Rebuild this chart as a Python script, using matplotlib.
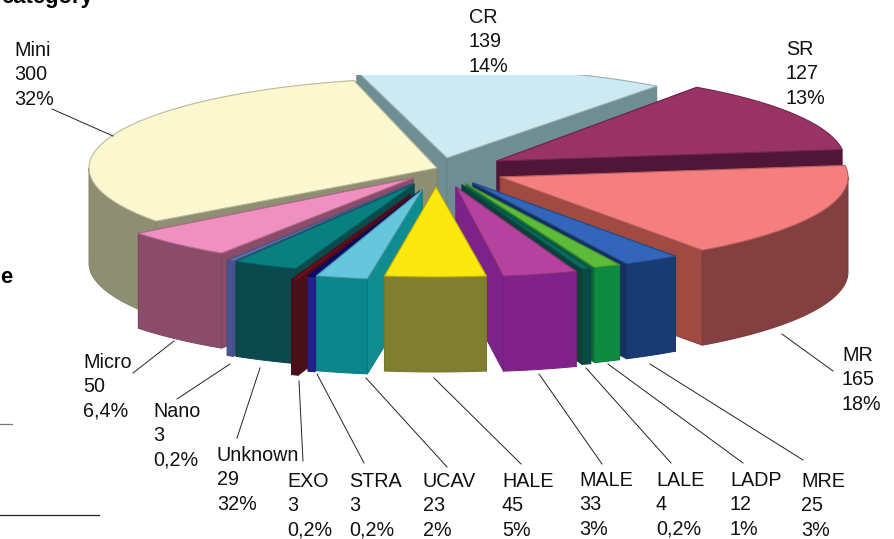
import numpy as np
import matplotlib
matplotlib.use("Agg")
import matplotlib.pyplot as plt
from matplotlib.patches import Polygon, Rectangle

plt.rcParams["font.family"] = ["Liberation Sans", "DejaVu Sans"]

# clockwise, beginning at the lower left of the pie
names = ["Mini", "CR", "SR", "MR", "MRE", "LADP", "LALE", "MALE", "HALE",
         "UCAV", "STRA", "EXO", "Unknown", "Nano", "Micro"]
counts = [300, 139, 127, 165, 25, 12, 4, 33, 45, 23, 3, 3, 29, 3, 50]
shares = ["32%", "14%", "13%", "18%", "3%", "1%", "0,2%", "3%", "5%",
          "2%", "0,2%", "0,2%", "32%", "0,2%", "6,4%"]

top_colors = ["#FBF7CE", "#CDE9F2", "#993366", "#F57F7F", "#3366BB", "#5DBB3A", "#0B6A5E",
              "#B5429F", "#FBE80F", "#66C6DC", "#0B0B70", "#6A0F20", "#088080", "#6070B0", "#F090C0"]
wall_colors = ["#8E8E72", "#6F8E93", "#561A40", "#843F40", "#1A3A72", "#0F8A42", "#0B4A42",
               "#80228A", "#807F30", "#0B868C", "#26208C", "#4A0F18", "#0A4A4C", "#4A5590", "#8A4C68"]
side_colors = ["#8E8E72", "#6F8E93", "#4F1638", "#A04A42", "#142F60", "#0C6A38", "#0A4038",
               "#7C2288", "#807F30", "#0F8C90", "#26208C", "#4A0F18", "#0A4A4C", "#4A5590", "#8A4C68"]

# where each exploded slice has its tip, and a small turn for the perspective
tips_x = [437, 447, 497, 500, 473, 466, 462, 456, 436, 422, 420, 410, 414, 411, 413]
tips_y = [168, 158, 161, 177, 183, 184, 185, 187, 187, 190, 191, 195, 184, 184, 178]
turn = [0.6, 1.8, 3.8, 3.8, 3.8, 3.8, 3.8, 3.8, 4.3, 3.8, 3.8, 3.8, 3.8, 3.8, 2.3]

START = 215.6
RX, RY, DEPTH = 348, 90, 95

label_pos = {"Mini": (14, 41), "CR": (469, 8), "SR": (786, 40), "MR": (842, 346), "Micro": (83, 353),
             "Nano": (153, 402), "Unknown": (217, 446), "EXO": (287, 472), "STRA": (349, 472),
             "UCAV": (423, 472), "HALE": (502, 472), "MALE": (579, 471), "LALE": (656, 471),
             "LADP": (730, 471), "MRE": (801, 472)}
leaders = [((52, 109), (113, 136)), ((133, 373), (174, 341)), ((177, 399), (230, 364)),
           ((237, 438), (260, 368)), ((303, 461), (299, 381)), ((364, 463), (317, 374)),
           ((447, 467), (366, 378)), ((521, 464), (434, 378)), ((602, 464), (539, 374)),
           ((671, 463), (586, 368)), ((743, 463), (608, 364)), ((803, 460), (650, 364)),
           ((833, 371), (782, 334))]

fig = plt.figure(figsize=(8.95, 5.39), dpi=100)
ax = fig.add_axes([0, 0, 1, 1])
ax.set_xlim(0, 895)
ax.set_ylim(539, 0)
ax.axis("off")


def shade(hexcolor, k=0.75):
    return tuple(c * k for c in matplotlib.colors.to_rgb(hexcolor))


def rim(cx, cy, t):
    t = np.radians(t)
    return np.column_stack([cx + RX * np.cos(t), cy - RY * np.sin(t)])


def draw_slice(i, a_hi, a_lo, z):
    cx, cy = tips_x[i], tips_y[i]
    tip = np.array([[cx, cy]])
    down = np.array([0, DEPTH])
    edge = shade(top_colors[i])
    line = dict(edgecolor=shade(wall_colors[i], 0.92), linewidth=0.7, joinstyle="round")

    # the two cut faces, the one further back first
    faces = []
    for a in (a_hi, a_lo):
        p = rim(cx, cy, np.array([a]))
        faces.append(np.vstack([tip, p, p + down, tip + down]))
    faces.sort(key=lambda f: f[:, 1].mean())
    for f in faces:
        ax.add_patch(Polygon(f, facecolor=side_colors[i], zorder=z, **line))

    # outer wall only where the rim faces the viewer
    if a_lo < 0 or a_hi > 180:
        lo = a_lo if a_lo < 0 else 180
        hi = a_hi if a_hi > 180 else min(a_hi, 0)
        ts = np.linspace(hi, lo, 60)
        arc = rim(cx, cy, ts)
        ax.add_patch(Polygon(np.vstack([arc, (arc + down)[::-1]]), facecolor=wall_colors[i], zorder=z, **line))

    ts = np.linspace(a_hi, a_lo, 80)
    ax.add_patch(Polygon(np.vstack([tip, rim(cx, cy, ts)]), facecolor=top_colors[i],
                         edgecolor=edge, linewidth=0.8, joinstyle="round", zorder=z))


spans = np.array(counts) / sum(counts) * 360
ends = START - np.cumsum(spans)
starts = ends + spans

# back slices first so the near ones overlap them
mids = np.radians((starts + ends + 2 * np.array(turn)) / 2)
order = np.argsort(-np.sin(mids))
for z, i in enumerate(order):
    draw_slice(i, starts[i] + turn[i], ends[i] + turn[i], 2 + z * 0.01)

# the pie is cut off flat along the top
ax.add_patch(Rectangle((0, 0), 895, 75, facecolor="white", edgecolor="none", zorder=3))

for a, b in leaders:
    ax.plot([a[0], b[0]], [a[1], b[1]], color="#222222", linewidth=0.7, zorder=4)

for name, n, pct in zip(names, counts, shares):
    x, y = label_pos[name]
    for k, s in enumerate([name, str(n), pct]):
        ax.text(x, y + k * 24.4, s, fontsize=14.2, color="#111111", ha="left", va="top", zorder=5)

# pieces of the surrounding page
ax.text(93, 3, "category", fontsize=15.8, fontweight="bold", ha="right", va="baseline", color="black", zorder=5)
ax.text(0, 283, "e", fontsize=15.8, fontweight="bold", ha="left", va="baseline", color="black", zorder=5)
ax.plot([0, 12], [424, 424], color="#777777", linewidth=0.9)
ax.plot([0, 99], [515, 515], color="#222222", linewidth=0.9)

fig.savefig("out.png", dpi=100)
